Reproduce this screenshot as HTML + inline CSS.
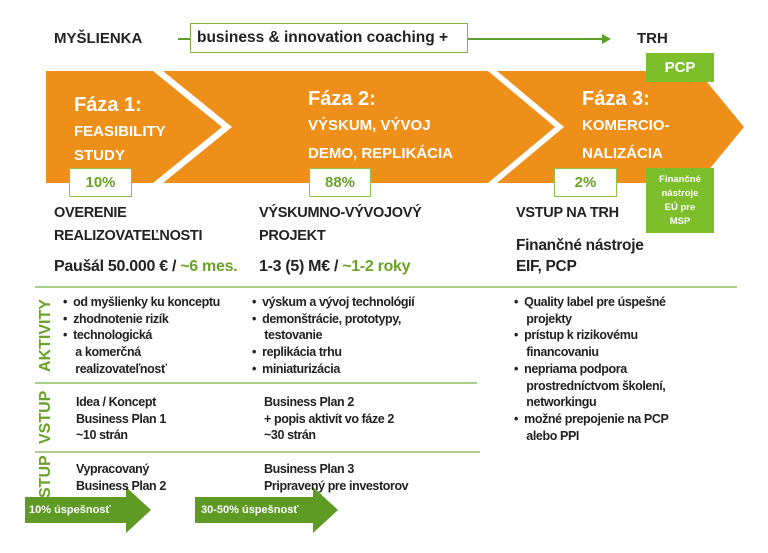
<!DOCTYPE html>
<html><head><meta charset="utf-8"><style>
body{margin:0;width:768px;height:553px;background:#fff;position:relative;overflow:hidden;font-family:"Liberation Sans",sans-serif;font-weight:bold;color:#222;}
.t{position:absolute;white-space:nowrap;line-height:1;}
.s{font-size:12.5px;letter-spacing:-0.4px;}
.w{color:#fff;}
.g{color:#6aa127;}
.box{position:absolute;border:1.5px solid #8bc34a;background:#fff;box-sizing:border-box;display:flex;align-items:center;justify-content:center;color:#6aa127;font-size:14px;}
.gb{position:absolute;background:#7cbf2a;color:#fff;display:flex;align-items:center;justify-content:center;text-align:center;}
.hl{position:absolute;height:2px;background:#a9cf8a;}
.v{position:absolute;color:#6aa127;font-size:15px;transform:rotate(-90deg);transform-origin:left top;white-space:nowrap;}
</style></head><body>
<svg width="768" height="553" style="position:absolute;left:0;top:0">
<g fill="#ee8f1a">
<polygon points="46,71 153,71 222,127 153,183 46,183"/>
<polygon points="163,71 488,71 555,127 488,183 163,183 232,127"/>
<polygon points="497,71 698,71 744,127 698,183 497,183 564,127"/>
</g>
<line x1="178" y1="39" x2="604" y2="39" stroke="#5e9e2a" stroke-width="2"/>
<polygon points="602,34 611,39 602,44" fill="#5e9e2a"/>
<g fill="#5e9a24">
<polygon points="25,497 126,497 126,487 151,510 126,533 126,523 25,523"/>
<polygon points="195,497 313,497 313,487 338,510 313,533 313,523 195,523"/>
</g>
</svg>
<div class="t" style="left:54px;top:31px;font-size:15px">MYŠLIENKA</div>
<div class="box" style="left:190px;top:23px;width:278px;height:30px;color:#222;border-color:#7cb342;justify-content:flex-start;padding-left:6px;font-size:15.5px">business &amp; innovation coaching +</div>
<div class="t" style="left:637px;top:31px;font-size:15px">TRH</div>
<div class="gb" style="left:646px;top:53px;width:68px;height:29px;font-size:15px">PCP</div>

<div class="t w" style="left:74px;top:95px;font-size:20px">Fáza 1:</div>
<div class="t w" style="left:74px;top:124px;font-size:15px">FEASIBILITY</div>
<div class="t w" style="left:74px;top:148px;font-size:15px">STUDY</div>
<div class="t w" style="left:308px;top:89px;font-size:20px">Fáza 2:</div>
<div class="t w" style="left:308px;top:118px;font-size:15px">VÝSKUM, VÝVOJ</div>
<div class="t w" style="left:308px;top:146px;font-size:15px">DEMO, REPLIKÁCIA</div>
<div class="t w" style="left:582px;top:89px;font-size:20px">Fáza 3:</div>
<div class="t w" style="left:582px;top:118px;font-size:15px">KOMERCIO-</div>
<div class="t w" style="left:582px;top:146px;font-size:15px">NALIZÁCIA</div>

<div class="box" style="left:69px;top:168px;width:63px;height:29px;font-size:15px">10%</div>
<div class="box" style="left:309px;top:168px;width:62px;height:29px;font-size:15px">88%</div>
<div class="box" style="left:554px;top:168px;width:63px;height:29px;font-size:15px">2%</div>
<div class="gb" style="left:646px;top:168px;width:68px;height:65px;font-size:9.5px;line-height:14px">Finančné<br>nástroje<br>EÚ pre<br>MSP</div>

<div class="t" style="left:54px;top:206px;font-size:14.5px;letter-spacing:-0.3px">OVERENIE</div>
<div class="t" style="left:54px;top:229px;font-size:14.5px;letter-spacing:-0.3px">REALIZOVATEĽNOSTI</div>
<div class="t" style="left:54px;top:259px;font-size:16px;letter-spacing:-0.3px">Paušál 50.000 € / <span class="g">~6 mes.</span></div>
<div class="t" style="left:259px;top:206px;font-size:14.5px;letter-spacing:-0.3px">VÝSKUMNO-VÝVOJOVÝ</div>
<div class="t" style="left:259px;top:229px;font-size:14.5px;letter-spacing:-0.3px">PROJEKT</div>
<div class="t" style="left:259px;top:259px;font-size:16px;letter-spacing:-0.3px">1-3 (5) M€ / <span class="g">~1-2 roky</span></div>
<div class="t" style="left:516px;top:206px;font-size:14.5px;letter-spacing:-0.3px">VSTUP NA TRH</div>
<div class="t" style="left:516px;top:238px;font-size:15.5px;letter-spacing:-0.3px">Finančné nástroje</div>
<div class="t" style="left:516px;top:259px;font-size:15.5px;letter-spacing:-0.3px">EIF, PCP</div>

<div class="hl" style="left:35px;top:286px;width:702px"></div>
<div class="hl" style="left:35px;top:382px;width:442px"></div>
<div class="hl" style="left:35px;top:451px;width:445px"></div>

<div class="v" style="left:37px;top:372px;font-size:16px">AKTIVITY</div>
<div class="v" style="left:37px;top:444px;font-size:16px">VSTUP</div>
<div class="v" style="left:37px;top:498px;font-size:16px">STUP</div>

<div class="t s" style="left:63px;top:294px;line-height:16.7px">•&nbsp; od myšlienky ku konceptu<br>•&nbsp; zhodnotenie rizík<br>•&nbsp; technologická<br>&nbsp;&nbsp;&nbsp; a komerčná<br>&nbsp;&nbsp;&nbsp; realizovateľnosť</div>
<div class="t s" style="left:252px;top:294px;line-height:16.7px">•&nbsp; výskum a vývoj technológií<br>•&nbsp; demonštrácie, prototypy,<br>&nbsp;&nbsp;&nbsp; testovanie<br>•&nbsp; replikácia trhu<br>•&nbsp; miniaturizácia</div>
<div class="t s" style="left:514px;top:294px;line-height:16.7px">•&nbsp; Quality label pre úspešné<br>&nbsp;&nbsp;&nbsp; projekty<br>•&nbsp; prístup k rizikovému<br>&nbsp;&nbsp;&nbsp; financovaniu<br>•&nbsp; nepriama podpora<br>&nbsp;&nbsp;&nbsp; prostredníctvom školení,<br>&nbsp;&nbsp;&nbsp; networkingu<br>•&nbsp; možné prepojenie na PCP<br>&nbsp;&nbsp;&nbsp; alebo PPI</div>

<div class="t s" style="left:76px;top:394px;line-height:16.7px">Idea / Koncept<br>Business Plan 1<br>~10 strán</div>
<div class="t s" style="left:264px;top:394px;line-height:16.7px">Business Plan 2<br>+ popis aktivít vo fáze 2<br>~30 strán</div>
<div class="t s" style="left:76px;top:461px;line-height:16.7px">Vypracovaný<br>Business Plan 2</div>
<div class="t s" style="left:264px;top:461px;line-height:16.7px">Business Plan 3<br>Pripravený pre investorov</div>

<div class="t w" style="left:29px;top:505px;font-size:11px">10% úspešnosť</div>
<div class="t w" style="left:201px;top:505px;font-size:11px">30-50% úspešnosť</div>
</body></html>
